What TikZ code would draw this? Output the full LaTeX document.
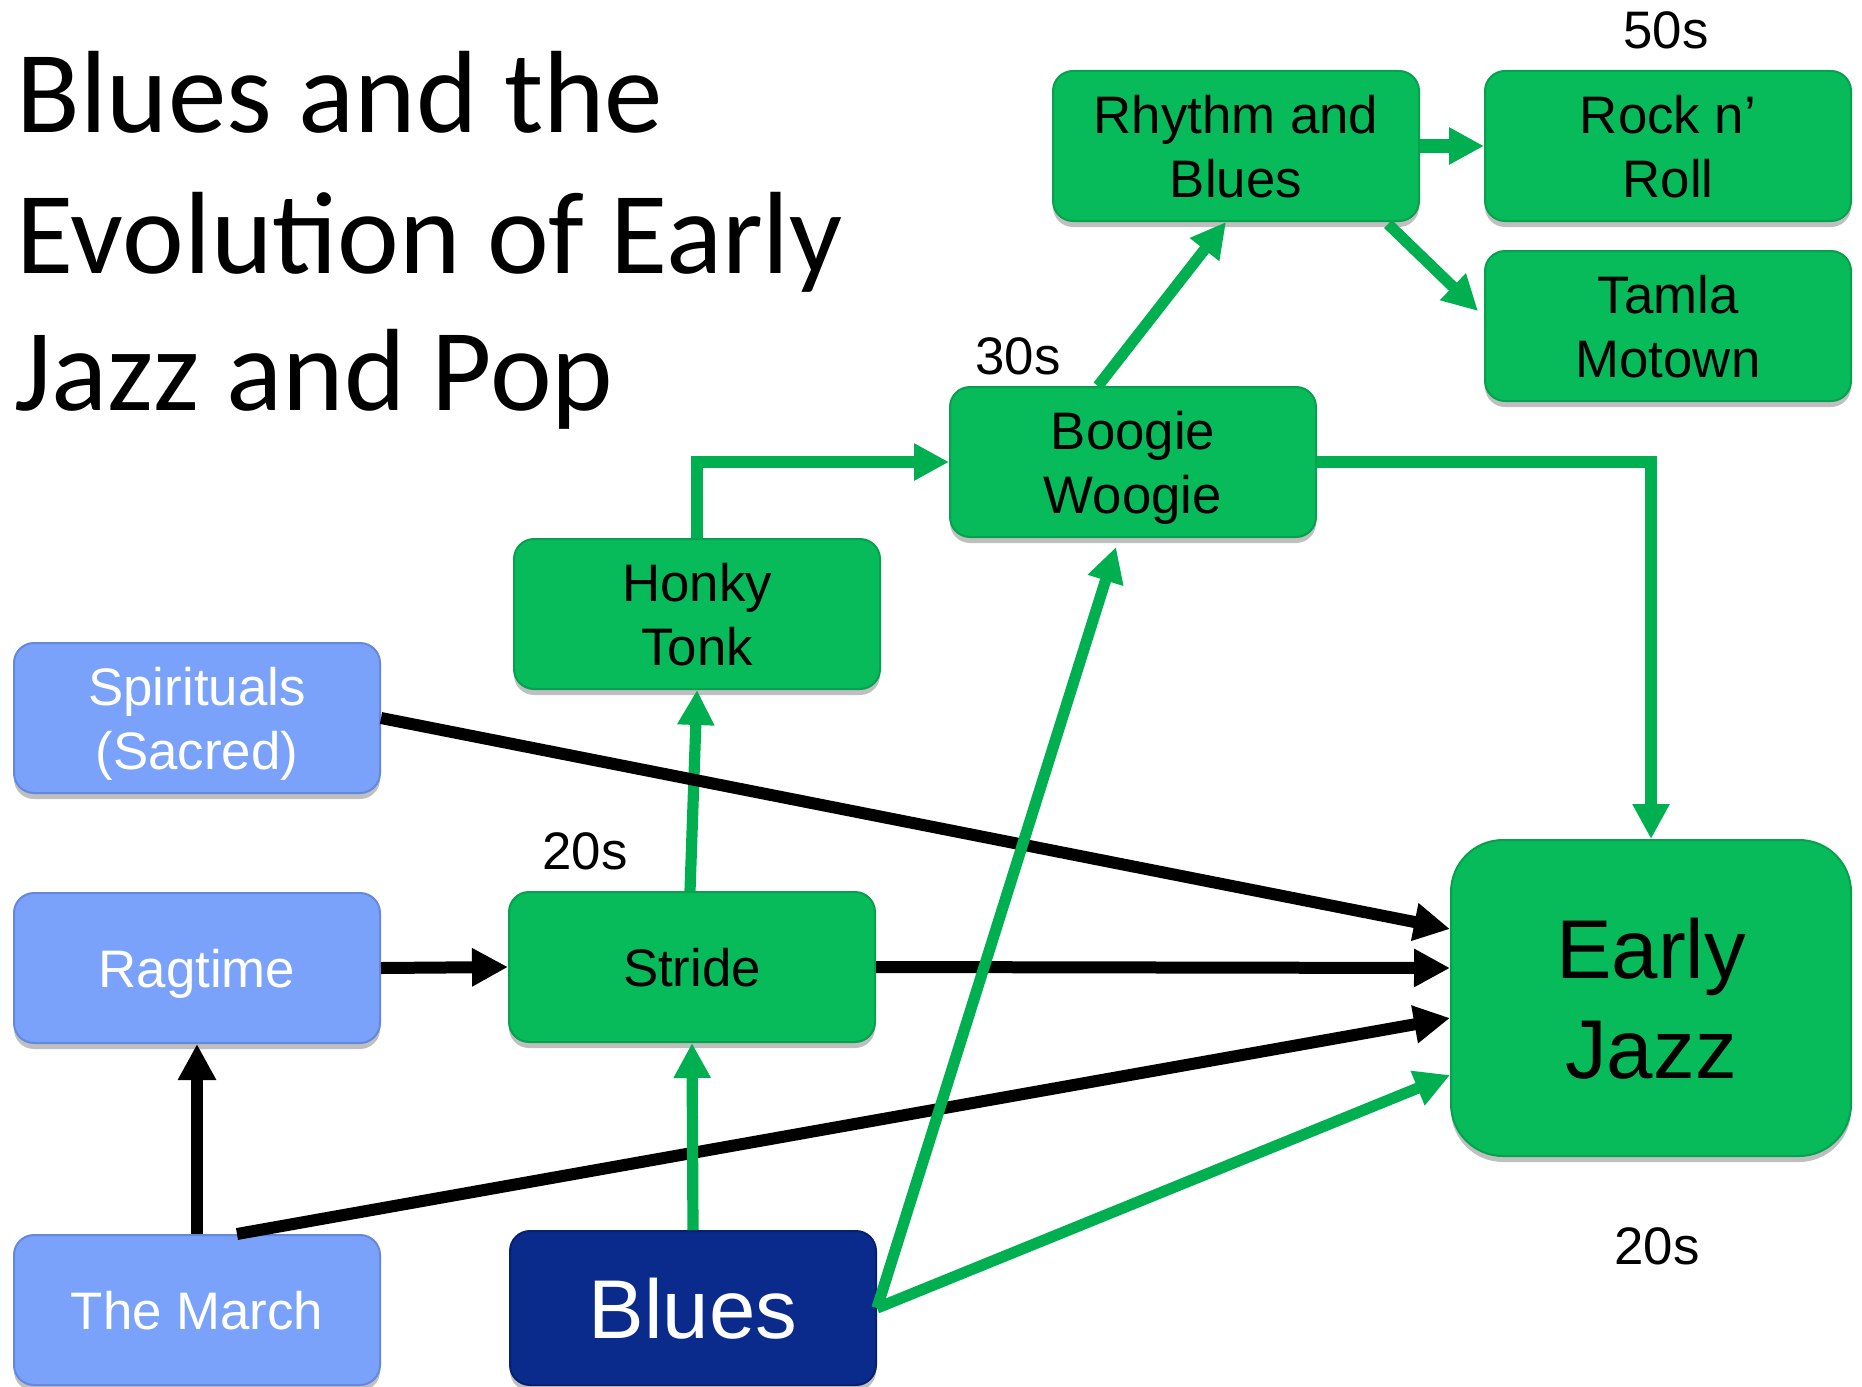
\documentclass[tikz,border=0pt]{standalone}
\usepackage{fontspec}
\setmainfont{Liberation Sans}
\newfontfamily\titlefont{Carlito}
\usetikzlibrary{arrows.meta,calc,shadows}
\definecolor{gfill}{HTML}{07BB5B}
\definecolor{gborder}{HTML}{06A04E}
\definecolor{lfill}{HTML}{7AA2FB}
\definecolor{lborder}{HTML}{6488DD}
\definecolor{dfill}{HTML}{0A2B8C}
\definecolor{dborder}{HTML}{08216E}
\definecolor{garrow}{HTML}{00B050}
\begin{document}
\begin{tikzpicture}[x=0.5pt,y=-0.5pt,
  box/.style={line width=1pt, rounded corners=10pt, minimum width=183pt, minimum height=75pt,
    inner sep=0pt, align=center, text depth=0pt, font=\fontsize{26.4}{32}\selectfont,
    drop shadow={shadow xshift=0pt, shadow yshift=-3pt, opacity=0.25, fill=black}},
  gbox/.style={box, fill=gfill, draw=gborder, text=black},
  bbox/.style={box, fill=lfill, draw=lborder, text=white},
  dbox/.style={box, fill=dfill, draw=dborder, text=white, font=\fontsize{41.7}{50}\selectfont},
  lbl/.style={font=\fontsize{26.4}{32}\selectfont, inner sep=0pt},
  ttl/.style={font=\titlefont\fontsize{58.5}{70}\selectfont, anchor=base west, inner sep=0pt},
  blk/.style={line width=6pt, draw=black, -{Triangle[length=18pt,width=18pt]}},
  grn/.style={line width=5.6pt, draw=garrow, -{Triangle[length=17.5pt,width=17.5pt]}}
]
\useasboundingbox (0,0) rectangle (1862,1386);

% title
\node[ttl] (t1) at (16,133) {Blues and the};
\node[ttl] (t2) at (16,273) {Evolution of Early};
\node[ttl] (t3) at (14,410) {Jazz and Pop};

% boxes
\node[bbox] (spir) at (197,718) {Spirituals\\(Sacred)};
\node[bbox] (rag) at (197,968) {Ragtime};
\node[bbox] (march) at (197,1310) {The March};
\node[gbox] (stride) at (692,967) {Stride};
\node[dbox, minimum height=77pt] (blues) at (693,1308) {Blues};
\node[gbox] (honky) at (697,614) {Honky\\Tonk};
\node[gbox] (boogie) at (1133,462) {Boogie\\Woogie};
\node[gbox] (rnb) at (1236,146) {Rhythm and\\Blues};
\node[gbox] (rock) at (1668,146) {Rock n’\\Roll};
\node[gbox] (tamla) at (1668,326) {Tamla\\Motown};
\node[gbox, minimum width=200pt, minimum height=158pt, rounded corners=26pt,
  font=\fontsize{41.7}{50}\selectfont] (early) at (1651,998) {Early\\Jazz};

% labels
\node[lbl] (l50) at (1666,30) {50s};
\node[lbl] (l30) at (1018,356) {30s};
\node[lbl] (l20a) at (585,851) {20s};
\node[lbl] (l20b) at (1657,1246) {20s};

% green connector under the black ones
\draw[grn] ($(stride.north)+(-2,0)$) -- (honky.south);

% black connectors
\draw[blk] (spir.east) -- ($(early.west)+(0,-69)$);
\draw[blk] (rag.east) -- (stride.west);
\draw[blk] (stride.east) -- ($(early.west)+(0,-30)$);
\draw[blk] ($(march.north)+(40,0)$) -- ($(early.west)+(0,20)$);
\draw[blk] (march.north) -- (rag.south);

% green connectors
\draw[grn] (blues.north) -- (stride.south);
\draw[grn] (blues.east) -- ($(early.west)+(0,77)$);
\draw[grn] (blues.east) -- ($(boogie.south)+(-17,9)$);
\draw[grn] (honky.north) |- (boogie.west);
\draw[grn] (boogie.east) -| (early.north);
\draw[grn] ($(boogie.north)+(-35,0)$) -- ($(rnb.south)+(-10,0)$);
\draw[grn, line width=7pt] (rnb.east) -- (rock.west);
\draw[grn] ($(rnb.south east)+(-32,2)$) -- ($(tamla.west)+(-6,-15)$);
\end{tikzpicture}
\end{document}
